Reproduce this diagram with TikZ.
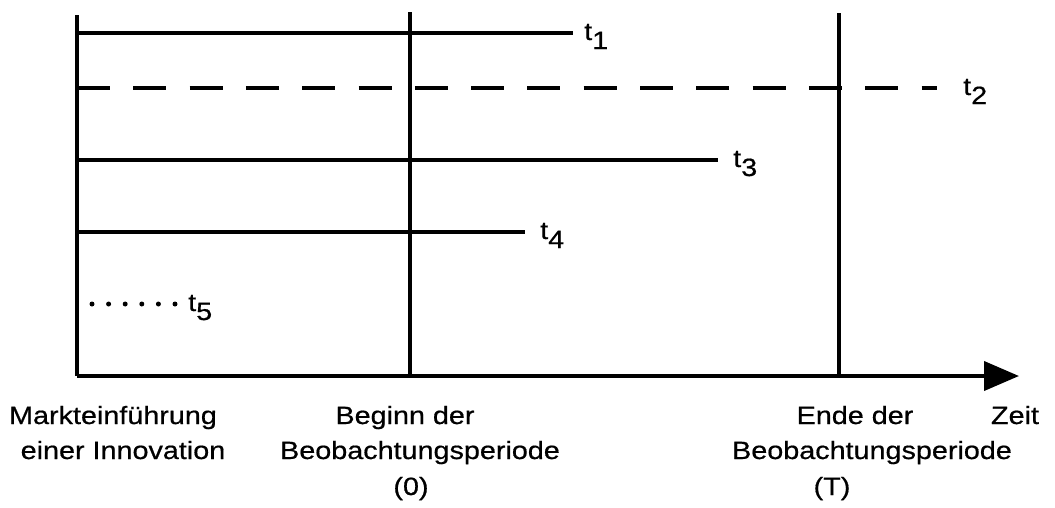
\documentclass[tikz,border=0pt]{standalone}
\usepackage{fontspec}
\setmainfont[FakeStretch=1.15,FakeBold=0.6]{Liberation Sans}
\usetikzlibrary{arrows.meta}
\newcommand{\tlab}[1]{t\raisebox{-9pt}{#1}}
\begin{document}
\begin{tikzpicture}[x=1pt,y=-1pt,
  txt/.style={font=\fontsize{25}{29}\selectfont, inner sep=0pt, anchor=base},
  tl/.style={font=\fontsize{25}{29}\selectfont, inner sep=0pt, anchor=base west},
  bar/.style={line width=3.8pt},
  life/.style={line width=3.8pt},
  dashlife/.style={line width=3.8pt, dash pattern=on 33pt off 23.3pt},
  dotlife/.style={line width=5pt, line cap=round, dash pattern=on 0pt off 16.6pt},
  axis/.style={line width=4pt, -{Triangle[length=35pt,width=29pt]}}]
\useasboundingbox (0,0) rectangle (1055,507);
% axis and vertical bars
\coordinate (L0) at (77,15);  \coordinate (L1) at (77,376);
\coordinate (B0) at (410,12); \coordinate (B1) at (410,376);
\coordinate (E0) at (839,13); \coordinate (E1) at (839,376);
\coordinate (tip) at (1019,376);
\draw[axis] (L1) -- (tip);
\draw[bar] (L0) -- (L1);
\draw[bar] (B0) -- (B1);
\draw[bar] (E0) -- (E1);
% life lines
\coordinate (s1) at (77,33);  \coordinate (e1) at (573,33);
\coordinate (s2) at (77,88);  \coordinate (e2) at (937,88);
\coordinate (s3) at (77,160); \coordinate (e3) at (718,160);
\coordinate (s4) at (77,232); \coordinate (e4) at (525,232);
\coordinate (s5) at (92,304); \coordinate (e5) at (176,304);
\draw[life] (s1) -- (e1);
\draw[dashlife] (s2) -- (e2);
\draw[life] (s3) -- (e3);
\draw[life] (s4) -- (e4);
\draw[dotlife] (s5) -- (e5);
\node[tl] (t1) at (584,40) {\tlab{1}};
\node[tl] (t2) at (963,95) {\tlab{2}};
\node[tl] (t3) at (733,167) {\tlab{3}};
\node[tl] (t4) at (540,239) {\tlab{4}};
\node[tl] (t5) at (188,311) {\tlab{5}};
% bottom labels
\node[txt] (m1) at (113,424) {Markteinführung};
\node[txt] (m2) at (123,459) {einer Innovation};
\node[txt] (b1) at (405,424) {Beginn der};
\node[txt] (b2) at (420,459) {Beobachtungsperiode};
\node[txt] (b3) at (411,495) {(0)};
\node[txt] (e1t) at (855,424) {Ende der};
\node[txt] (e2t) at (872,459) {Beobachtungsperiode};
\node[txt] (e3t) at (832,495) {(T)};
\node[txt] (z) at (1015,424) {Zeit};
\end{tikzpicture}
\end{document}
